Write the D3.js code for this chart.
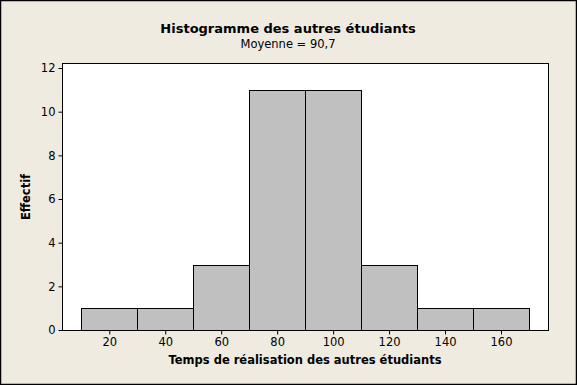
<!DOCTYPE html>
<html>
<head>
<meta charset="utf-8">
<script src="https://cdn.jsdelivr.net/npm/d3@7"></script>
<style>
  body { margin: 0; background: #fff; }
  text { font-family: "DejaVu Sans", Verdana, sans-serif; fill: #000; }
</style>
</head>
<body>
<div id="chart-area"></div>
<script>
var binStarts = [10, 30, 50, 70, 90, 110, 130, 150];
var binWidth = 20;
var counts = [1, 1, 3, 11, 11, 3, 1, 1];
var xTicks = [20, 40, 60, 80, 100, 120, 140, 160];
var yTicks = [0, 2, 4, 6, 8, 10, 12];

var W = 577, H = 385;
var plot = { left: 62, right: 548, top: 63, bottom: 330 };

var svg = d3.select("#chart-area")
  .append("svg")
  .attr("width", W)
  .attr("height", H);

svg.append("rect")
  .attr("x", 0.5).attr("y", 0.5)
  .attr("width", W - 1).attr("height", H - 1)
  .attr("fill", "#efebe0")
  .attr("stroke", "#000")
  .attr("stroke-width", 1.5);

var x = d3.scaleLinear().domain([3.1, 176.8]).range([plot.left, plot.right]);
var y = d3.scaleLinear().domain([0, 12.23]).range([plot.bottom, plot.top]);

svg.append("rect")
  .attr("x", plot.left).attr("y", plot.top)
  .attr("width", plot.right - plot.left).attr("height", plot.bottom - plot.top)
  .attr("fill", "#fff");

svg.selectAll(".bar")
  .data(counts)
  .enter()
  .append("rect")
  .attr("class", "bar")
  .attr("x", function(d, i) { return Math.round(x(binStarts[i])) + 0.5; })
  .attr("y", function(d) { return Math.round(y(d)) + 0.5; })
  .attr("width", function(d, i) { return Math.round(x(binStarts[i] + binWidth)) - Math.round(x(binStarts[i])); })
  .attr("height", function(d) { return Math.round(y(0)) - Math.round(y(d)); })
  .attr("fill", "#c0c0c0")
  .attr("stroke", "#000")
  .attr("stroke-width", 1);

svg.append("rect")
  .attr("x", plot.left + 0.5).attr("y", plot.top + 0.5)
  .attr("width", plot.right - plot.left).attr("height", plot.bottom - plot.top)
  .attr("fill", "none")
  .attr("stroke", "#000")
  .attr("stroke-width", 1);

var xAxis = svg.append("g")
  .attr("transform", "translate(0," + (plot.bottom + 0.5) + ")")
  .call(d3.axisBottom(x).tickValues(xTicks).tickSize(4).tickPadding(3));
var yAxis = svg.append("g")
  .attr("transform", "translate(" + (plot.left + 0.5) + ",0)")
  .call(d3.axisLeft(y).tickValues(yTicks).tickSize(4).tickPadding(3));

[xAxis, yAxis].forEach(function(a) {
  a.select(".domain").remove();
  a.selectAll("text").style("font-size", "11.5px").style("font-family", "\"DejaVu Sans\", sans-serif");
});

svg.append("text")
  .attr("x", 288).attr("y", 33)
  .attr("text-anchor", "middle")
  .style("font-size", "13px").style("font-weight", "bold")
  .text("Histogramme des autres étudiants");

svg.append("text")
  .attr("x", 288).attr("y", 48)
  .attr("text-anchor", "middle")
  .style("font-size", "11.5px")
  .text("Moyenne = 90,7");

svg.append("text")
  .attr("x", 305).attr("y", 364)
  .attr("text-anchor", "middle")
  .style("font-size", "11.5px").style("font-weight", "bold")
  .text("Temps de réalisation des autres étudiants");

svg.append("text")
  .attr("transform", "translate(30,197) rotate(-90)")
  .attr("text-anchor", "middle")
  .style("font-size", "11.5px").style("font-weight", "bold")
  .text("Effectif");
</script>
</body>
</html>
